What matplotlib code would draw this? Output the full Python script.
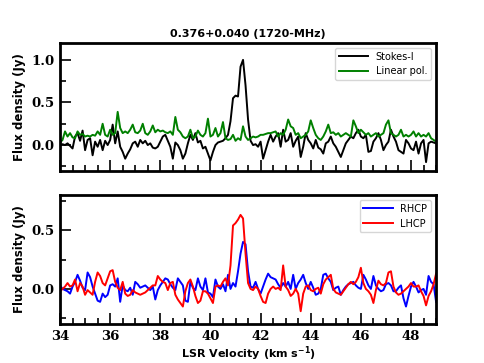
import numpy as np
import matplotlib
matplotlib.use("Agg")
import matplotlib.pyplot as plt
from matplotlib.ticker import MultipleLocator

# Spectra of 0.376+0.040 at 1720 MHz (0.1 km/s channels).
v_start, v_step, n_chan = 34.0, 0.1, 151
velocity = v_start + v_step * np.arange(n_chan)

stokes_i = [
    0.00, 0.01, 0.00, 0.02, -0.01, -0.04, 0.10, 0.14, 0.05, 0.17,
    -0.06, 0.06, 0.08, -0.12, 0.04, -0.02, 0.06, -0.06, 0.05, 0.00,
    0.06, 0.24, 0.02, 0.16, -0.02, -0.08, -0.16, -0.10, -0.05, 0.02,
    0.04, -0.02, 0.06, 0.02, 0.05, 0.00, 0.02, -0.03, -0.04, -0.02,
    0.04, 0.10, 0.12, 0.05, -0.02, -0.16, 0.03, 0.00, -0.06, -0.16,
    -0.10, 0.02, 0.12, 0.06, 0.14, 0.03, 0.05, -0.04, -0.02, -0.10,
    -0.18, -0.08, 0.00, 0.03, 0.04, 0.05, 0.08, 0.12, 0.28, 0.55,
    0.58, 0.57, 0.92, 1.00, 0.70, 0.30, 0.05, 0.00, 0.01, -0.02,
    0.04, -0.16, -0.06, 0.04, 0.12, 0.04, 0.10, 0.14, -0.02, 0.18,
    0.04, 0.06, 0.14, -0.02, 0.05, 0.10, -0.14, -0.02, 0.14, 0.06,
    0.02, -0.04, 0.06, -0.03, -0.05, -0.10, 0.02, 0.04, 0.10, 0.02,
    -0.02, -0.08, -0.14, -0.06, 0.02, 0.06, 0.10, 0.08, 0.14, 0.18,
    0.10, 0.08, 0.12, -0.08, -0.07, 0.04, 0.08, 0.14, 0.06, -0.06,
    0.00, 0.04, 0.18, 0.10, 0.04, -0.06, -0.08, -0.10, 0.06, 0.02,
    -0.04, -0.06, 0.04, -0.10, 0.02, 0.06, -0.20, 0.02, 0.04, 0.03,
    0.02,
]

linear_pol = [
    0.03, 0.06, 0.16, 0.10, 0.14, 0.09, 0.08, 0.16, 0.12, 0.13,
    0.10, 0.11, 0.10, 0.12, 0.11, 0.16, 0.12, 0.25, 0.12, 0.10,
    0.18, 0.12, 0.14, 0.39, 0.20, 0.14, 0.16, 0.14, 0.18, 0.24,
    0.15, 0.14, 0.17, 0.25, 0.14, 0.12, 0.16, 0.23, 0.15, 0.18,
    0.16, 0.17, 0.15, 0.14, 0.16, 0.12, 0.33, 0.18, 0.15, 0.10,
    0.08, 0.10, 0.18, 0.08, 0.10, 0.17, 0.12, 0.10, 0.14, 0.31,
    0.10, 0.12, 0.20, 0.10, 0.14, 0.27, 0.08, 0.06, 0.07, 0.12,
    0.05, 0.08, 0.06, 0.22, 0.10, 0.06, 0.08, 0.10, 0.09, 0.10,
    0.12, 0.12, 0.13, 0.14, 0.14, 0.15, 0.16, 0.10, 0.14, 0.12,
    0.18, 0.30, 0.22, 0.20, 0.12, 0.14, 0.08, 0.10, 0.12, 0.16,
    0.29, 0.20, 0.12, 0.08, 0.06, 0.10, 0.16, 0.24, 0.14, 0.15,
    0.12, 0.14, 0.10, 0.12, 0.14, 0.12, 0.10, 0.29, 0.22, 0.14,
    0.18, 0.15, 0.12, 0.14, 0.10, 0.12, 0.14, 0.10, 0.12, 0.14,
    0.24, 0.29, 0.14, 0.12, 0.10, 0.12, 0.18, 0.10, 0.12, 0.10,
    0.12, 0.16, 0.10, 0.14, 0.10, 0.12, 0.10, 0.14, 0.08, 0.06,
    0.04,
]

rhcp = [
    0.03, 0.00, -0.01, -0.02, -0.04, 0.02, 0.06, 0.12, 0.07, 0.01,
    -0.01, 0.14, 0.10, 0.02, -0.04, -0.10, -0.11, -0.04, -0.07, -0.05,
    0.03, 0.04, 0.02, 0.09, -0.11, 0.03, -0.01, -0.02, 0.01, -0.05,
    0.06, 0.04, 0.01, 0.02, 0.03, 0.01, -0.01, 0.02, -0.09, -0.01,
    0.03, 0.06, 0.09, 0.08, 0.04, 0.01, -0.01, 0.09, 0.06, 0.03,
    -0.10, -0.11, 0.06, 0.01, -0.01, 0.09, 0.02, -0.01, 0.09, -0.03,
    -0.04, -0.07, 0.08, 0.02, 0.00, 0.04, -0.02, 0.12, 0.00, 0.05,
    0.02, 0.15, 0.30, 0.40, 0.38, 0.15, 0.02, 0.01, 0.06, 0.00,
    -0.04, 0.02, 0.08, 0.13, 0.10, 0.09, 0.08, 0.04, 0.01, 0.05,
    0.02, 0.06, 0.00, 0.12, 0.00, 0.05, 0.08, 0.12, 0.05, 0.00,
    0.06, 0.01, -0.05, -0.04, 0.00, 0.12, 0.13, 0.09, 0.06, -0.01,
    0.01, 0.02, -0.05, -0.01, 0.02, 0.04, 0.05, 0.06, 0.03, 0.01,
    0.00, 0.12, 0.08, 0.03, 0.00, 0.11, 0.03, 0.00, -0.02, -0.01,
    0.04, 0.05, 0.03, -0.02, -0.02, 0.01, 0.03, -0.08, -0.15, -0.06,
    0.02, 0.06, 0.02, -0.03, -0.01, 0.00, -0.05, 0.11, 0.06, 0.04,
    -0.11,
]

lhcp = [
    -0.02, 0.00, 0.02, 0.05, 0.02, 0.03, 0.08, -0.02, 0.05, 0.02,
    -0.05, -0.01, -0.03, -0.05, 0.06, 0.14, 0.11, 0.05, 0.03, 0.09,
    0.15, 0.16, 0.06, 0.01, -0.01, 0.06, -0.04, -0.06, -0.05, -0.01,
    -0.03, -0.04, -0.05, -0.04, -0.03, -0.01, 0.01, 0.03, 0.03, 0.11,
    0.08, 0.06, 0.05, -0.01, 0.05, 0.06, -0.05, -0.09, -0.12, -0.15,
    -0.02, 0.05, 0.08, 0.02, -0.06, -0.12, -0.10, -0.02, -0.02, -0.04,
    -0.08, -0.12, 0.02, 0.03, 0.02, 0.06, 0.09, 0.03, 0.20, 0.54,
    0.56, 0.59, 0.63, 0.60, 0.30, 0.05, 0.00, -0.01, 0.02, 0.00,
    -0.06, -0.11, -0.12, -0.04, 0.00, 0.02, 0.00, 0.01, -0.01, 0.20,
    0.02, -0.01, -0.06, -0.04, 0.00, -0.04, -0.19, -0.04, 0.02, 0.03,
    -0.01, -0.02, 0.00, 0.01, -0.04, 0.04, 0.08, 0.10, 0.12, 0.00,
    -0.03, -0.04, -0.05, -0.02, 0.01, 0.04, 0.06, 0.04, 0.06, 0.10,
    0.18, 0.05, 0.00, -0.02, -0.05, -0.12, -0.01, 0.07, 0.04, 0.03,
    0.05, 0.14, 0.15, 0.02, -0.03, -0.05, -0.04, -0.02, 0.00, 0.02,
    0.05, 0.02, 0.02, 0.03, -0.02, -0.06, -0.14, -0.06, -0.02, 0.04,
    0.13,
]

title = "0.376+0.040 (1720-MHz)"
ylabel = "Flux density (Jy)"
xlabel = r"LSR Velocity (km s$^{\mathbf{-1}}$)"

tick_font = {"family": "DejaVu Serif", "weight": "bold", "size": 9.5}

fig = plt.figure(figsize=(4.84, 3.63), dpi=100)
ax1 = fig.add_axes([0.124, 0.530, 0.777, 0.352])
ax2 = fig.add_axes([0.124, 0.107, 0.777, 0.356])

ax1.plot(velocity, stokes_i, color="black", lw=1.4, label="Stokes-I")
ax1.plot(velocity, linear_pol, color="green", lw=1.4, label="Linear pol.")
ax2.plot(velocity, rhcp, color="blue", lw=1.4, label="RHCP")
ax2.plot(velocity, lhcp, color="red", lw=1.4, label="LHCP")

ax1.set_ylim(-0.3, 1.2)
ax2.set_ylim(-0.3, 0.8)

for ax in (ax1, ax2):
    ax.set_xlim(34, 49)
    ax.xaxis.set_major_locator(MultipleLocator(2))
    ax.xaxis.set_minor_locator(MultipleLocator(0.5))
    ax.yaxis.set_major_locator(MultipleLocator(0.5))
    ax.yaxis.set_minor_locator(MultipleLocator(0.25))
    ax.tick_params(which="major", direction="in", length=8, width=1.2,
                   top=False, right=False, pad=4)
    ax.tick_params(which="minor", direction="in", length=4, width=1.2,
                   top=False, right=False)
    for s in ax.spines.values():
        s.set_linewidth(2.0)
    for lab in ax.get_yticklabels() + ax.get_xticklabels():
        lab.set_fontproperties(tick_font)
    ax.set_ylabel(ylabel, fontsize=8.5, fontweight="bold", family="DejaVu Sans")
    ax.legend(loc="upper right", fontsize=7, handlelength=3.0,
              frameon=True, fancybox=True, framealpha=0.8, edgecolor="#cccccc")

ax1.set_xticklabels([])
ax1.set_title(title, fontsize=8, fontweight="bold", pad=4)
ax2.set_xlabel(xlabel, fontsize=8, fontweight="bold", labelpad=1)

fig.savefig("out.png", dpi=100)
